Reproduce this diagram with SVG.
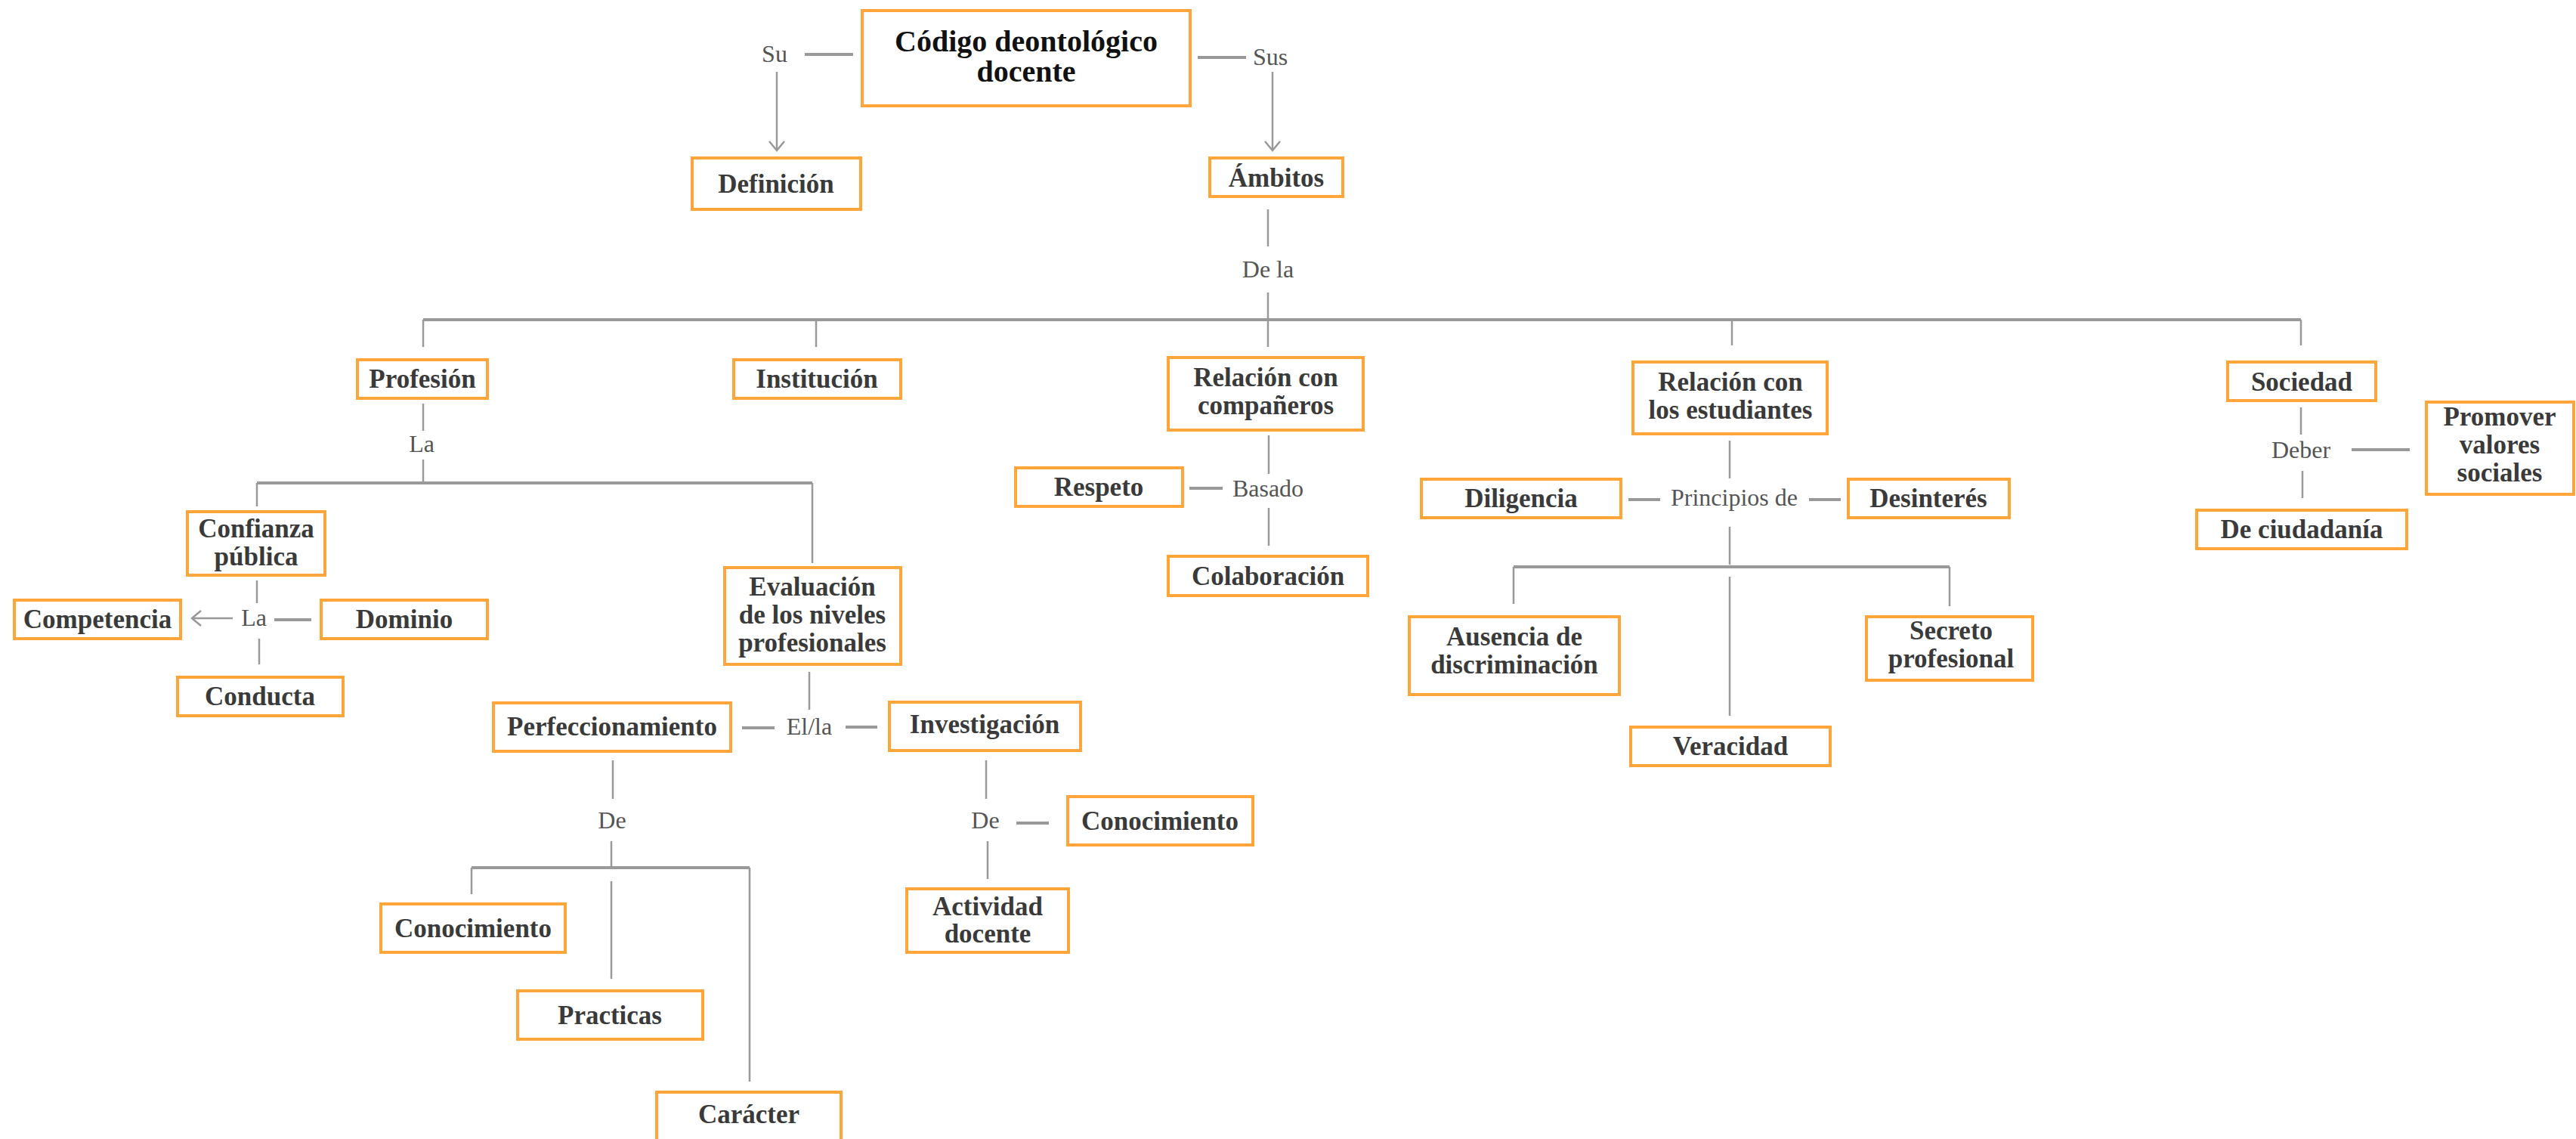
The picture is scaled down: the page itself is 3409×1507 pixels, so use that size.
<svg xmlns="http://www.w3.org/2000/svg" width="3409" height="1507" viewBox="0 0 3409 1507">
<defs>
<marker id="chev" markerUnits="userSpaceOnUse" markerWidth="30" markerHeight="30" viewBox="-16 -15 20 30" refX="0" refY="0" orient="auto">
<path d="M-12,-10 L0,0 L-12,10" fill="none" stroke="#999" stroke-width="2.5"/>
</marker>
</defs>
<style>
.box{fill:#fff;stroke:#ffa53a;stroke-width:4}
.t{font-family:"Liberation Serif",serif;font-weight:bold;font-size:35px;fill:#3a3a3a;text-anchor:middle}
.root{font-family:"Liberation Serif",serif;font-weight:bold;font-size:40px;fill:#111;text-anchor:middle}
.lbl{font-family:"Liberation Serif",serif;font-size:32px;fill:#555;text-anchor:middle}
.c{stroke:#999;stroke-width:2.5;fill:none}
.h{stroke:#999;stroke-width:4;fill:none}
</style>
<rect width="3409" height="1507" fill="#fff"/>

<g id="connectors">
<line class="h" x1="1065" y1="72" x2="1129" y2="72"/>
<line class="h" x1="1585" y1="76" x2="1649" y2="76"/>
<line class="c" x1="1028" y1="95" x2="1028" y2="199" marker-end="url(#chev)"/>
<line class="c" x1="1684" y1="95" x2="1684" y2="199" marker-end="url(#chev)"/>
<line class="c" x1="1678" y1="277" x2="1678" y2="326"/>
<line class="c" x1="1678" y1="387" x2="1678" y2="423"/>
<line class="h" x1="560" y1="423" x2="3045" y2="423"/>
<line class="c" x1="560" y1="423" x2="560" y2="459"/>
<line class="c" x1="1080" y1="423" x2="1080" y2="459"/>
<line class="c" x1="1678" y1="423" x2="1678" y2="459"/>
<line class="c" x1="2292" y1="423" x2="2292" y2="457"/>
<line class="c" x1="3045" y1="423" x2="3045" y2="457"/>

<line class="c" x1="560" y1="534" x2="560" y2="570"/>
<line class="c" x1="560" y1="608" x2="560" y2="639"/>
<line class="h" x1="340" y1="639" x2="1075" y2="639"/>
<line class="c" x1="340" y1="639" x2="340" y2="670"/>
<line class="c" x1="1075" y1="639" x2="1075" y2="745"/>

<line class="c" x1="340" y1="768" x2="340" y2="798"/>
<line class="c" x1="343" y1="845" x2="343" y2="879"/>
<line class="c" x1="308" y1="818" x2="254" y2="818" marker-end="url(#chev)"/>
<line class="h" x1="363" y1="820" x2="412" y2="820"/>

<line class="c" x1="1071" y1="889" x2="1071" y2="939"/>
<line class="h" x1="982" y1="963" x2="1025" y2="963"/>
<line class="h" x1="1119" y1="962" x2="1161" y2="962"/>

<line class="c" x1="811" y1="1006" x2="811" y2="1057"/>
<line class="c" x1="809" y1="1113" x2="809" y2="1148"/>
<line class="h" x1="624" y1="1148" x2="992" y2="1148"/>
<line class="c" x1="624" y1="1148" x2="624" y2="1183"/>
<line class="c" x1="809" y1="1166" x2="809" y2="1295"/>
<line class="c" x1="992" y1="1148" x2="992" y2="1431"/>

<line class="c" x1="1305" y1="1006" x2="1305" y2="1057"/>
<line class="h" x1="1345" y1="1089" x2="1388" y2="1089"/>
<line class="c" x1="1307" y1="1113" x2="1307" y2="1163"/>

<line class="c" x1="1679" y1="576" x2="1679" y2="627"/>
<line class="h" x1="1574" y1="646" x2="1618" y2="646"/>
<line class="c" x1="1679" y1="672" x2="1679" y2="722"/>

<line class="c" x1="2289" y1="583" x2="2289" y2="633"/>
<line class="h" x1="2155" y1="661" x2="2197" y2="661"/>
<line class="h" x1="2394" y1="661" x2="2436" y2="661"/>
<line class="c" x1="2289" y1="697" x2="2289" y2="747"/>
<line class="h" x1="2003" y1="750" x2="2580" y2="750"/>
<line class="c" x1="2003" y1="750" x2="2003" y2="799"/>
<line class="c" x1="2580" y1="750" x2="2580" y2="802"/>
<line class="c" x1="2289" y1="763" x2="2289" y2="947"/>

<line class="c" x1="3045" y1="539" x2="3045" y2="575"/>
<line class="h" x1="3112" y1="595" x2="3189" y2="595"/>
<line class="c" x1="3047" y1="623" x2="3047" y2="659"/>

<text class="lbl" x="1025" y="82">Su</text>
<text class="lbl" x="1681" y="86">Sus</text>
<text class="lbl" x="1678" y="367">De la</text>
<text class="lbl" x="558" y="598">La</text>
<text class="lbl" x="336" y="828">La</text>
<text class="lbl" x="1071" y="972">El/la</text>
<text class="lbl" x="810" y="1096">De</text>
<text class="lbl" x="1304" y="1096">De</text>
<text class="lbl" x="1678" y="657">Basado</text>
<text class="lbl" x="2295" y="669">Principios de</text>
<text class="lbl" x="3045" y="606">Deber</text>
</g>

<g id="root"><rect class="box" x="1141" y="14" width="434" height="126"/><text class="root" x="1358" y="68">Código deontológico</text><text class="root" x="1358" y="108">docente</text></g>
<g id="definicion"><rect class="box" x="916" y="209" width="223" height="68"/><text class="t" x="1027" y="255">Definición</text></g>
<g id="ambitos"><rect class="box" x="1601" y="209" width="176" height="51"/><text class="t" x="1689" y="247">Ámbitos</text></g>
<g id="profesion"><rect class="box" x="473" y="476" width="172" height="51"/><text class="t" x="559" y="513">Profesión</text></g>
<g id="institucion"><rect class="box" x="971" y="476" width="221" height="51"/><text class="t" x="1081" y="513">Institución</text></g>
<g id="companeros"><rect class="box" x="1546" y="473" width="258" height="96"/><text class="t" x="1675" y="511">Relación con</text><text class="t" x="1675" y="548">compañeros</text></g>
<g id="estudiantes"><rect class="box" x="2161" y="479" width="257" height="95"/><text class="t" x="2290" y="517">Relación con</text><text class="t" x="2290" y="554">los estudiantes</text></g>
<g id="sociedad"><rect class="box" x="2948" y="479" width="196" height="51"/><text class="t" x="3046" y="517">Sociedad</text></g>
<g id="confianza"><rect class="box" x="248" y="677" width="182" height="84"/><text class="t" x="339" y="711">Confianza</text><text class="t" x="339" y="748">pública</text></g>
<g id="competencia"><rect class="box" x="19" y="794" width="220" height="51"/><text class="t" x="129" y="831">Competencia</text></g>
<g id="dominio"><rect class="box" x="425" y="794" width="220" height="51"/><text class="t" x="535" y="831">Dominio</text></g>
<g id="conducta"><rect class="box" x="235" y="896" width="219" height="51"/><text class="t" x="344" y="933">Conducta</text></g>
<g id="evaluacion"><rect class="box" x="959" y="751" width="233" height="128"/><text class="t" x="1075" y="788">Evaluación</text><text class="t" x="1075" y="825">de los niveles</text><text class="t" x="1075" y="862">profesionales</text></g>
<g id="perfeccionamiento"><rect class="box" x="653" y="930" width="314" height="64"/><text class="t" x="810" y="973">Perfeccionamiento</text></g>
<g id="investigacion"><rect class="box" x="1177" y="929" width="253" height="64"/><text class="t" x="1303" y="970">Investigación</text></g>
<g id="conocimiento1"><rect class="box" x="504" y="1196" width="244" height="64"/><text class="t" x="626" y="1240">Conocimiento</text></g>
<g id="practicas"><rect class="box" x="685" y="1311" width="245" height="64"/><text class="t" x="807" y="1355">Practicas</text></g>
<g id="caracter"><rect class="box" x="869" y="1445" width="244" height="70"/><text class="t" x="991" y="1486">Carácter</text></g>
<g id="conocimiento2"><rect class="box" x="1413" y="1054" width="245" height="64"/><text class="t" x="1535" y="1098">Conocimiento</text></g>
<g id="actividad"><rect class="box" x="1200" y="1176" width="214" height="84"/><text class="t" x="1307" y="1211">Actividad</text><text class="t" x="1307" y="1247">docente</text></g>
<g id="respeto"><rect class="box" x="1344" y="619" width="221" height="51"/><text class="t" x="1454" y="656">Respeto</text></g>
<g id="colaboracion"><rect class="box" x="1546" y="736" width="264" height="52"/><text class="t" x="1678" y="774">Colaboración</text></g>
<g id="diligencia"><rect class="box" x="1881" y="634" width="264" height="51"/><text class="t" x="2013" y="671">Diligencia</text></g>
<g id="desinteres"><rect class="box" x="2446" y="634" width="213" height="51"/><text class="t" x="2552" y="671">Desinterés</text></g>
<g id="ausencia"><rect class="box" x="1865" y="816" width="278" height="103"/><text class="t" x="2004" y="854">Ausencia de</text><text class="t" x="2004" y="891">discriminación</text></g>
<g id="secreto"><rect class="box" x="2470" y="816" width="220" height="84"/><text class="t" x="2582" y="846">Secreto</text><text class="t" x="2582" y="883">profesional</text></g>
<g id="veracidad"><rect class="box" x="2158" y="962" width="264" height="51"/><text class="t" x="2290" y="999">Veracidad</text></g>
<g id="promover"><rect class="box" x="3211" y="532" width="195" height="122"/><text class="t" x="3308" y="563">Promover</text><text class="t" x="3308" y="600">valores</text><text class="t" x="3308" y="637">sociales</text></g>
<g id="ciudadania"><rect class="box" x="2907" y="675" width="278" height="51"/><text class="t" x="3046" y="712">De ciudadanía</text></g>
</svg>
